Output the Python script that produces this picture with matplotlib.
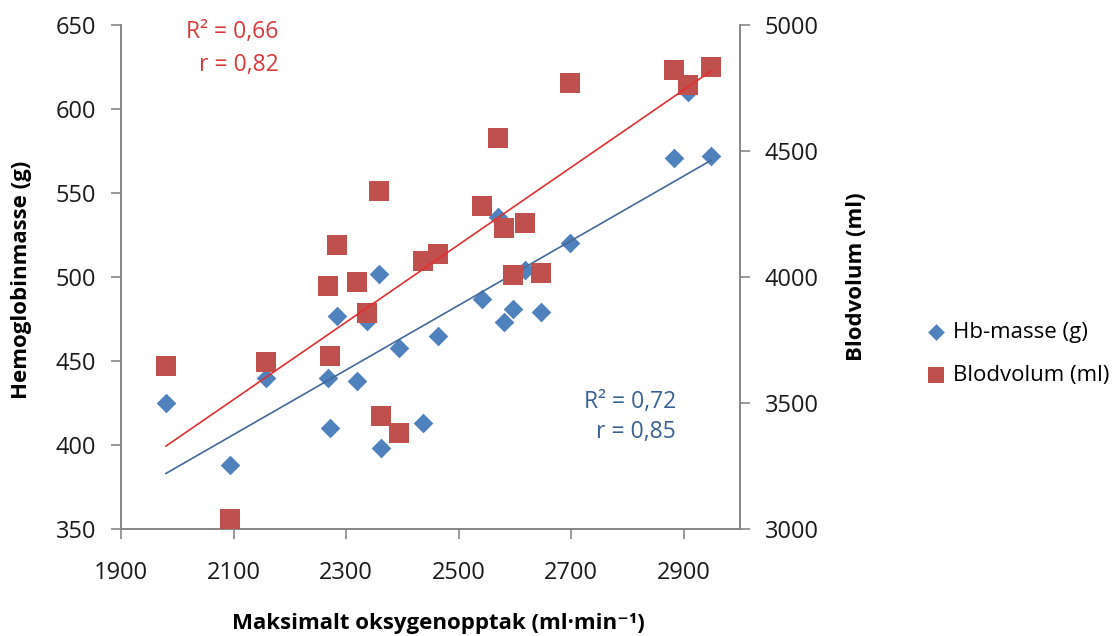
import numpy as np
import matplotlib
matplotlib.use("Agg")
import matplotlib.pyplot as plt

plt.rcParams['font.family'] = ['Open Sans', 'DejaVu Sans']

# maksimalt oksygenopptak (ml/min)
vo2 = [1980, 2093, 2158, 2267, 2272, 2284, 2320, 2337, 2358, 2362, 2394, 2436,
       2464, 2541, 2570, 2580, 2596, 2618, 2647, 2698, 2882, 2908, 2949]
# Hb-masse (g)
hb_masse = [425, 388, 440, 440, 410, 477, 438, 474, 502, 398, 458, 413,
            465, 487, 536, 473, 481, 504, 479, 520, 571, 610, 572]
# blodvolum (ml)
blodvolum = [3648, 3040, 3662, 3966, 3687, 4127, 3979, 3856, 4341, 3448, 3382, 4064,
             4090, 4283, 4550, 4193, 4007, 4216, 4015, 4768, 4821, 4763, 4832]

blue = '#4F81BD'
red = '#C0504D'
spine_col = '#868686'

W, H = 1116, 636
fig = plt.figure(figsize=(W / 100, H / 100), dpi=100)
ax = fig.add_axes([121 / W, 1 - 529 / H, 619 / W, 504 / H])
ax2 = ax.twinx()

x = np.array(vo2)
xs = np.array([x.min(), x.max()])

# Hb-masse mot venstre akse
ax.scatter(vo2, hb_masse, marker='D', s=10 ** 2, color=blue, zorder=3,
           linewidths=0, label='Hb-masse (g)')
k1 = np.polyfit(x, hb_masse, 1)
ax.plot(xs, np.polyval(k1, xs), color='#44699B', lw=1.2, zorder=4)

# blodvolum mot hoyre akse
ax2.scatter(vo2, blodvolum, marker='s', s=14 ** 2, color=red, zorder=3,
            linewidths=0, label='Blodvolum (ml)')
k2 = np.polyfit(x, blodvolum, 1)
ax2.plot(xs, np.polyval(k2, xs), color='#E0302F', lw=1.2, zorder=4)

ax.set_xlim(1900, 3000)
ax.set_ylim(350, 650)
ax2.set_ylim(3000, 5000)
ax.set_xticks(range(1900, 3000, 200))
ax.set_yticks(range(350, 651, 50))
ax2.set_yticks(range(3000, 5001, 500))

for a in (ax, ax2):
    a.spines['top'].set_visible(False)
    for s in ('left', 'right', 'bottom'):
        a.spines[s].set_color(spine_col)
        a.spines[s].set_linewidth(1.2)
    a.tick_params(length=7, width=1.2, color=spine_col, labelsize=17,
                  labelcolor='#1a1a1a', pad=11)
ax.tick_params(axis='x', pad=16)

# aksetitler
fig.text(22 / W, 1 - 280 / H, 'Hemoglobinmasse (g)', rotation=90, ha='center',
         va='center', fontsize=16, fontweight='bold')
fig.text(856 / W, 1 - 277 / H, 'Blodvolum (ml)', rotation=90, ha='center',
         va='center', fontsize=16, fontweight='bold')
fig.text(438 / W, 1 - 623 / H, 'Maksimalt oksygenopptak (ml·min⁻¹)', ha='center',
         va='center', fontsize=16, fontweight='bold')

ax.text(0.255, 0.986, 'R² = 0,66', transform=ax.transAxes, ha='right',
        va='center', fontsize=16.5, color='#D9393A')
ax.text(0.255, 0.921, 'r = 0,82', transform=ax.transAxes, ha='right',
        va='center', fontsize=16.5, color='#D9393A')
ax.text(0.897, 0.252, 'R² = 0,72', transform=ax.transAxes, ha='right',
        va='center', fontsize=16.5, color='#3A6194')
ax.text(0.897, 0.192, 'r = 0,85', transform=ax.transAxes, ha='right',
        va='center', fontsize=16.5, color='#3A6194')

h1, l1 = ax.get_legend_handles_labels()
h2, l2 = ax2.get_legend_handles_labels()
fig.legend(h1 + h2, l1 + l2, loc='center left',
           bbox_to_anchor=(912 / W, 1 - 354 / H), frameon=False,
           fontsize=16, labelspacing=1.0, handletextpad=0.15, handlelength=1.2,
           markerscale=0.85, borderpad=0)

fig.savefig('out.png', dpi=100)
